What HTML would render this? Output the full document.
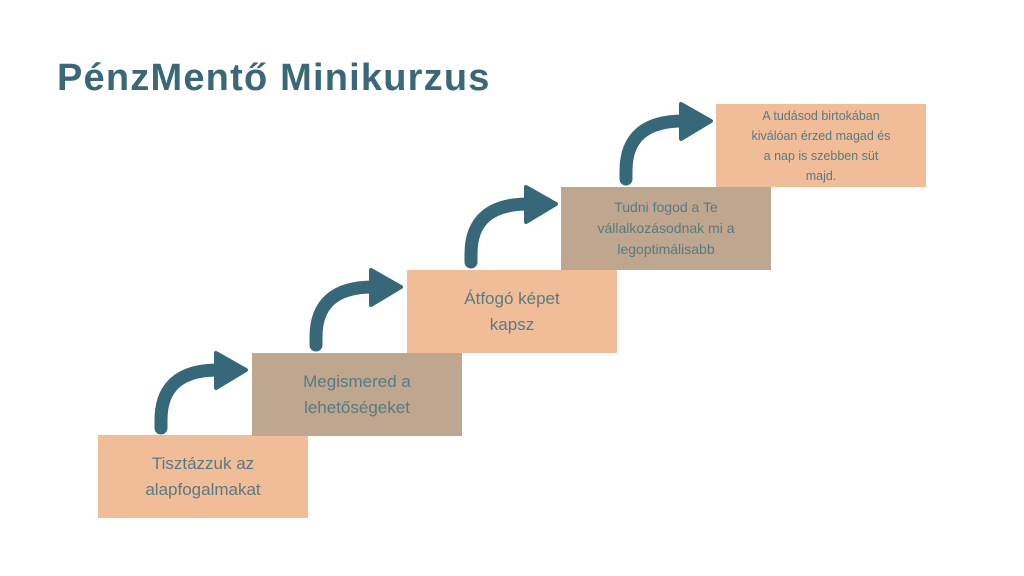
<!DOCTYPE html>
<html><head><meta charset="utf-8"><style>
body{margin:0;width:1024px;height:576px;background:#fff;position:relative;overflow:hidden;font-family:"Liberation Sans",sans-serif}
.t{position:absolute;left:57px;top:57px;font-size:38px;color:#3b6878;font-weight:bold;letter-spacing:1.2px}
.b{position:absolute;width:210px;height:83px;display:flex;align-items:center;justify-content:center;text-align:center;color:#5a7a82;box-sizing:border-box;padding:0 12px}
.p{background:#f0bd98}.n{background:#bfa68e}
</style></head><body>
<div class="t">PénzMentő Minikurzus</div>
<div class="b p" style="left:98px;top:435px;font-size:17px;line-height:26px">Tisztázzuk az alapfogalmakat</div>
<div class="b n" style="left:252px;top:353px;font-size:17px;line-height:26px">Megismered a lehetőségeket</div>
<div class="b p" style="left:407px;top:270px;font-size:17px;line-height:26px;padding:0 40px">Átfogó képet kapsz</div>
<div class="b n" style="left:561px;top:187px;font-size:14px;line-height:21px">Tudni fogod a Te vállalkozásodnak mi a legoptimálisabb</div>
<div class="b p" style="left:716px;top:104px;font-size:12.5px;line-height:20px;padding:0 32px">A tudásod birtokában kiválóan érzed magad és a nap is szebben süt majd.</div>
<svg width="1024" height="576" style="position:absolute;left:0;top:0">
<defs><g id="a"><path d="M161,428 L161,420 Q161,370 218,370" fill="none" stroke="#37687a" stroke-width="13" stroke-linecap="round"/><polygon points="216,353 246,370 216,388" fill="#37687a" stroke="#37687a" stroke-width="4" stroke-linejoin="round"/></g></defs>
<use href="#a"/>
<use href="#a" transform="translate(155,-83)"/>
<use href="#a" transform="translate(310,-166)"/>
<use href="#a" transform="translate(465,-249)"/>
</svg>
</body></html>
